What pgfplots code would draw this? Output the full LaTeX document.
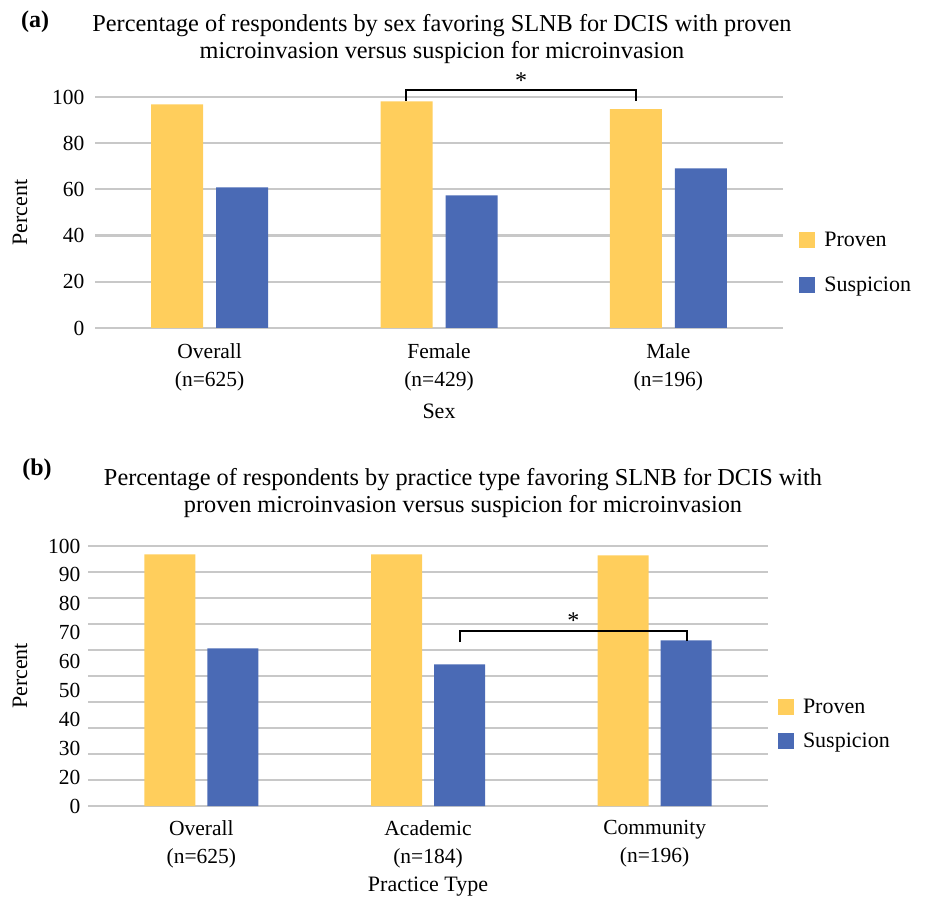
\documentclass[border=0pt]{standalone}
\usepackage{pgfplots}
\pgfplotsset{compat=1.18}
\usepackage{fontspec}
\setmainfont{Liberation Serif}
\definecolor{provc}{HTML}{FFCE5C}
\definecolor{suspc}{HTML}{4A6AB5}
\definecolor{gridc}{HTML}{C8C8C8}
\pgfplotsset{
  myax/.style={
    scale only axis,
    xmin=-0.5, xmax=2.5, ymin=0, ymax=100,
    xtick={0,1,2},
    axis line style={draw=none},
    major tick length=0pt, minor tick length=0pt,
    tick style={draw=none},
    grid style={draw=gridc, line width=2.2pt},
    minor grid style={draw=gridc, line width=2.2pt},
    clip=false,
    /pgf/number format/assume math mode=true,
    ticklabel style={font=\fontsize{21.5}{28}\selectfont},
    xticklabel style={align=center},
    label style={font=\fontsize{22}{26}\selectfont},
    legend style={draw=none, fill=none, font=\fontsize{22}{26}\selectfont, legend cell align=left, anchor=west},
  },
  mylegimg/.style={legend image code/.code={\fill[##1, draw=none] (0pt,-8pt) rectangle (16pt,8pt); \path (23pt,0pt);}},
}
\begin{document}
\begin{tikzpicture}[x=1pt,y=1pt]
\useasboundingbox (0,0) rectangle (928,897);
% ---------- (a)
\node[font=\bfseries\fontsize{24}{28}\selectfont] at (35,875) {(a)};
\node[font=\fontsize{24.3}{27}\selectfont, align=center] at (442,857.5) {Percentage of respondents by sex favoring SLNB for DCIS with proven\\microinvasion versus suspicion for microinvasion};
\begin{axis}[myax,
  at={(95pt,569pt)}, anchor=south west, width=688pt, height=231pt,
  ybar=13pt, bar width=52pt, mylegimg,
  ytick={0,20,...,100}, ymajorgrids,
  yticklabel style={xshift=-7pt},
  xticklabel style={yshift=-12pt},
  xticklabels={{Overall\\(n=625)},{Female\\(n=429)},{Male\\(n=196)}},
  xlabel={Sex}, xlabel style={at={(axis description cs:0.5,-0.36)}, anchor=center},
  ylabel={Percent}, ylabel style={at={(axis description cs:-0.109,0.5)}, anchor=center},
  legend style={at={(axis description cs:1.019,0.285)}, row sep=25pt},
]
\addplot[fill=provc, draw=none] coordinates {(0,96.8) (1,98.1) (2,94.7)};
\addplot[fill=suspc, draw=none] coordinates {(0,60.9) (1,57.4) (2,69.1)};
\legend{Proven,Suspicion}
\draw[line width=2pt] (axis cs:0.858,98.3) -- (axis cs:0.858,103.2) -- (axis cs:1.858,103.2) -- (axis cs:1.858,98.3);
\node[font=\fontsize{24}{26}\selectfont, anchor=north] at (axis cs:1.358,112) {*};
\end{axis}
% ---------- (b)
\node[font=\bfseries\fontsize{24}{28}\selectfont] at (37,427) {(b)};
\node[font=\fontsize{24.3}{27}\selectfont, align=center] at (463,404) {Percentage of respondents by practice type favoring SLNB for DCIS with\\proven microinvasion versus suspicion for microinvasion};
\begin{axis}[myax,
  at={(88pt,91pt)}, anchor=south west, width=680pt, height=260pt,
  ybar=12pt, bar width=51pt, mylegimg,
  ytick={0,11.111,22.222,33.333,44.444,55.556,66.667,77.778,88.889,100},
  yticklabels={0,20,30,40,50,60,70,80,90,100},
  minor ytick={0,10,...,100}, yminorgrids,
  yticklabel style={xshift=-4pt},
  xticklabel style={yshift=-11pt},
  xticklabels={{Overall\\(n=625)},{Academic\\(n=184)},{Community\\(n=196)}},
  xlabel={Practice Type}, xlabel style={at={(axis description cs:0.5,-0.31)}, anchor=center},
  ylabel={Percent}, ylabel style={at={(axis description cs:-0.1,0.5)}, anchor=center},
  legend style={at={(axis description cs:1.010,0.317)}, row sep=14pt},
]
\addplot[fill=provc, draw=none] coordinates {(0,96.8) (1,96.8) (2,96.4)};
\addplot[fill=suspc, draw=none] coordinates {(0,60.6) (1,54.5) (2,63.7)};
\legend{Proven,Suspicion}
\draw[line width=2pt] (axis cs:1.141,63) -- (axis cs:1.141,67.2) -- (axis cs:2.141,67.2) -- (axis cs:2.141,63.3);
\node[font=\fontsize{24}{26}\selectfont, anchor=north] at (axis cs:1.641,75.5) {*};
\end{axis}
\end{tikzpicture}
\end{document}
